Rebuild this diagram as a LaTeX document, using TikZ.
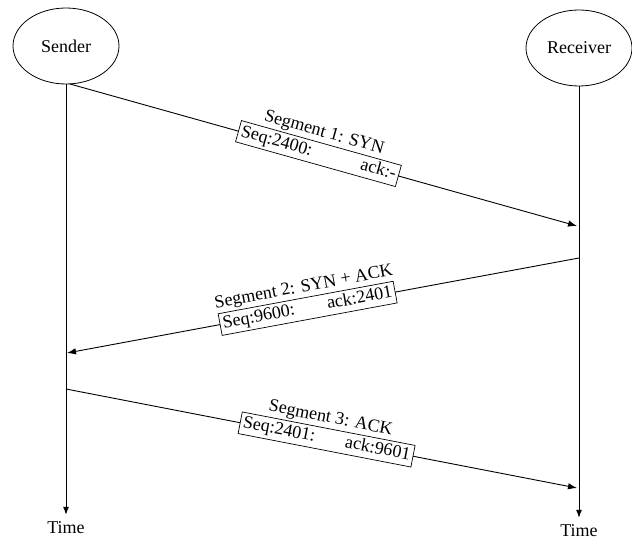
\documentclass[tikz,border=0pt]{standalone}
\usepackage{fontspec}
\setmainfont{Liberation Serif}
\usetikzlibrary{shapes.geometric,arrows.meta,calc}
\begin{document}
\begin{tikzpicture}[x=1pt,y=-1pt,
  every node/.style={font=\fontsize{18}{21}\selectfont},
  actor/.style={draw, ellipse, line width=0.8pt, minimum width=106pt,
    minimum height=76pt, inner sep=0pt},
  lifeline/.style={line width=0.9pt, -{Latex[length=8pt,width=6pt]}},
  msg/.style={line width=0.9pt, -{Latex[length=9pt,width=6.5pt]}},
  seqbox/.style={draw, fill=white, line width=0.7pt, text width=#1,
    inner xsep=3pt, inner ysep=1.5pt, minimum height=22pt, align=left},
  seglabel/.style={anchor=south, inner sep=1.5pt},
  timelabel/.style={inner sep=7pt}]

\useasboundingbox (0,0) rectangle (632,540);

% participants
\node[actor] (snd) at (66,46) {Sender};
\node[actor] (rcv) at (579,48) {Receiver};

% time axes
\node[timelabel] (tS) at (66,528) {Time};
\node[timelabel] (tR) at (579,531) {Time};
\draw[lifeline] (snd) -- (tS);
\draw[lifeline] (rcv) -- (tR);

% end points of the three segments
\coordinate (s1) at (70,84);
\coordinate (r1) at (577,226);
\coordinate (r2) at (579,258);
\coordinate (s2) at (67,353);
\coordinate (s3) at (66,389);
\coordinate (r3) at (577,488);

% segment 1
\draw[msg] (s1) -- (r1)
  node[seqbox=160pt, pos=0.49, sloped] (b1) {Seq:2400:\hfill ack:-};
\path let \p1=($(r1)-(s1)$), \n1={atan2(\y1,\x1)} in
  node[seglabel, rotate=\n1] (l1) at (b1.north) {Segment 1: SYN};

% segment 2
\draw[msg] (r2) -- (s2)
  node[seqbox=172pt, pos=0.53, sloped] (b2) {Seq:9600:\hfill ack:2401};
\path let \p1=($(r2)-(s2)$), \n1={atan2(\y1,\x1)} in
  node[seglabel, rotate=\n1] (l2) at (b2.north) {Segment 2: SYN + ACK};

% segment 3
\draw[msg] (s3) -- (r3)
  node[seqbox=170pt, pos=0.51, sloped] (b3) {Seq:2401:\hfill ack:9601};
\path let \p1=($(r3)-(s3)$), \n1={atan2(\y1,\x1)} in
  node[seglabel, rotate=\n1] (l3) at (b3.north) {Segment 3: ACK};

\end{tikzpicture}
\end{document}
